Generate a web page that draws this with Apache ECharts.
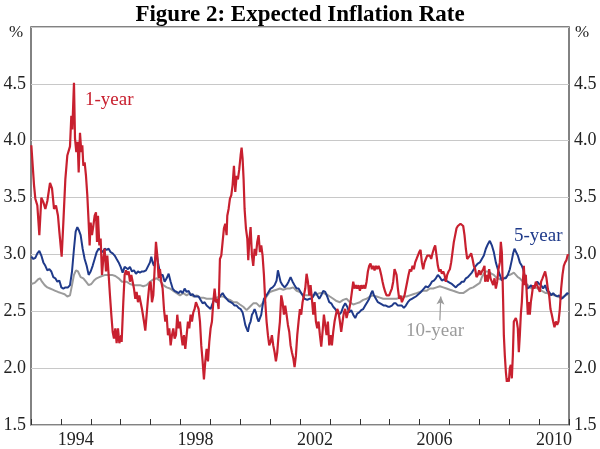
<!DOCTYPE html>
<html>
<head>
<meta charset="utf-8">
<script src="https://cdn.jsdelivr.net/npm/echarts@6/dist/echarts.min.js"></script>
<style>
html,body{margin:0;padding:0;background:#fff;}
#chart{width:600px;height:449px;}
</style>
</head>
<body>
<div id="chart"></div>
<script>
// ---- data (decimal year, per cent) ----
const titleText = 'Figure 2: Expected Inflation Rate';
const yearCategories = ['1993','1994','1995','1996','1997','1998','1999','2000','2001','2002','2003','2004','2005','2006','2007','2008','2009','2010'];
const shownYearLabels = ['1994','1998','2002','2006','2010'];
const yTicks = [1.5,2.0,2.5,3.0,3.5,4.0,4.5,5.0];

const oneYear = [
[1993.011,3.96],[1993.101,3.61],[1993.145,3.49],[1993.212,3.43],[1993.279,3.17],[1993.346,3.50],[1993.413,3.46],[1993.480,3.40],[1993.547,3.47],[1993.636,3.63],[1993.703,3.58],[1993.770,3.40],[1993.836,3.43],[1993.903,3.34],[1993.948,3.20],[1994.026,2.98],[1994.082,3.28],[1994.149,3.66],[1994.215,3.87],[1994.305,3.95],[1994.349,4.22],[1994.383,4.10],[1994.438,4.51],[1994.472,4.02],[1994.516,3.90],[1994.561,3.99],[1994.595,3.72],[1994.639,4.07],[1994.684,3.90],[1994.717,3.96],[1994.751,3.78],[1994.795,3.81],[1994.840,3.69],[1994.884,3.52],[1994.929,3.28],[1994.962,3.08],[1994.996,3.28],[1995.040,3.17],[1995.085,3.25],[1995.130,3.34],[1995.174,3.37],[1995.208,3.11],[1995.241,3.34],[1995.286,3.08],[1995.330,3.14],[1995.375,2.82],[1995.419,2.96],[1995.464,3.05],[1995.509,2.85],[1995.553,2.99],[1995.598,2.82],[1995.642,2.64],[1995.687,2.47],[1995.732,2.32],[1995.776,2.26],[1995.821,2.35],[1995.865,2.22],[1995.910,2.35],[1995.955,2.22],[1996.021,2.29],
[1996.033,2.23],[1996.088,2.58],[1996.133,2.82],[1996.178,2.86],[1996.222,2.82],[1996.267,2.85],[1996.311,2.76],[1996.356,2.82],[1996.401,2.76],[1996.445,2.70],[1996.490,2.61],[1996.534,2.67],[1996.579,2.58],[1996.624,2.64],[1996.668,2.58],[1996.713,2.52],[1996.780,2.41],[1996.824,2.33],[1996.869,2.47],[1996.913,2.61],[1996.958,2.73],[1997.003,2.76],[1997.047,2.58],[1997.092,2.64],[1997.136,2.87],[1997.181,3.11],[1997.226,2.99],[1997.270,2.79],[1997.315,2.87],[1997.359,2.76],[1997.404,2.70],[1997.449,2.52],[1997.493,2.41],[1997.538,2.47],[1997.582,2.29],[1997.627,2.35],[1997.672,2.20],[1997.716,2.29],[1997.761,2.35],[1997.805,2.26],[1997.850,2.29],[1997.894,2.47],[1997.939,2.35],[1997.984,2.41],[1998.028,2.29],[1998.073,2.20],[1998.117,2.29],[1998.162,2.17],[1998.207,2.29],[1998.251,2.41],[1998.296,2.35],[1998.340,2.47],[1998.385,2.41],[1998.430,2.49],[1998.474,2.52],[1998.519,2.58],[1998.563,2.55],[1998.608,2.52],[1998.653,2.41],[1998.697,2.20],[1998.742,2.06],[1998.786,1.90],[1998.831,2.06],[1998.876,2.17],[1998.920,2.06],[1998.965,2.23],[1999.009,2.35],[1999.054,2.41],[1999.098,2.58],[1999.143,2.70],
[1999.188,2.58],[1999.232,2.61],[1999.277,2.52],[1999.321,2.96],[1999.366,2.99],[1999.411,3.11],[1999.455,3.23],[1999.500,3.27],[1999.544,3.17],[1999.567,3.34],[1999.611,3.40],[1999.656,3.49],[1999.700,3.52],[1999.745,3.61],[1999.790,3.78],[1999.834,3.55],[1999.879,3.69],[1999.923,3.66],[1999.968,3.75],[2000.013,3.87],[2000.046,3.94],[2000.080,3.84],[2000.113,3.66],[2000.146,3.40],[2000.191,3.23],[2000.236,3.14],[2000.269,2.95],[2000.302,3.11],[2000.347,3.24],[2000.392,2.99],[2000.436,2.90],[2000.481,3.05],[2000.525,2.99],[2000.570,3.11],[2000.615,3.17],[2000.659,3.02],[2000.704,3.08],[2000.748,2.99],[2000.793,2.82],[2000.838,2.58],[2000.882,2.41],[2000.927,2.29],[2000.971,2.20],[2001.016,2.23],[2001.060,2.29],[2001.105,2.20],[2001.150,2.14],[2001.194,2.06],[2001.239,2.14],[2001.283,2.29],[2001.328,2.41],[2001.373,2.64],[2001.417,2.58],[2001.462,2.47],[2001.506,2.55],[2001.551,2.47],[2001.596,2.38],[2001.640,2.32],[2001.685,2.20],[2001.729,2.14],[2001.774,2.09],[2001.818,2.01],[2001.863,2.11],[2001.908,2.29],[2001.952,2.41],[2001.997,2.52],[2002.041,2.47],[2002.086,2.58],[2002.130,2.64],[2002.175,2.70],
[2002.220,2.83],[2002.265,2.76],[2002.309,2.64],[2002.354,2.73],[2002.398,2.61],[2002.443,2.47],[2002.488,2.58],[2002.532,2.41],[2002.577,2.35],[2002.621,2.41],[2002.666,2.29],[2002.711,2.19],[2002.755,2.32],[2002.800,2.47],[2002.844,2.38],[2002.889,2.29],[2002.933,2.41],[2002.978,2.20],[2003.023,2.29],[2003.067,2.20],[2003.112,2.32],[2003.156,2.41],[2003.201,2.47],[2003.246,2.52],[2003.290,2.49],[2003.335,2.41],[2003.379,2.32],[2003.424,2.41],[2003.469,2.49],[2003.513,2.52],[2003.558,2.44],[2003.602,2.49],[2003.647,2.52],[2003.691,2.58],[2003.736,2.67],[2003.781,2.76],[2003.825,2.70],[2003.870,2.73],[2003.914,2.70],[2003.959,2.73],[2004.004,2.68],[2004.048,2.73],[2004.093,2.70],[2004.137,2.73],[2004.182,2.70],[2004.227,2.76],[2004.271,2.85],[2004.316,2.90],[2004.360,2.92],[2004.405,2.87],[2004.450,2.90],[2004.494,2.86],[2004.539,2.90],[2004.583,2.87],[2004.628,2.90],[2004.672,2.87],[2004.717,2.82],[2004.762,2.76],[2004.806,2.71],[2004.851,2.67],[2004.895,2.64],[2004.940,2.63],[2004.985,2.64],[2005.029,2.67],[2005.074,2.70],[2005.118,2.76],[2005.163,2.87],
[2005.185,2.87],[2005.230,2.82],[2005.275,2.70],[2005.319,2.61],[2005.364,2.64],[2005.408,2.58],[2005.453,2.61],[2005.498,2.64],[2005.542,2.70],[2005.587,2.76],[2005.631,2.82],[2005.676,2.87],[2005.720,2.85],[2005.765,2.90],[2005.810,2.87],[2005.854,2.93],[2005.899,2.96],[2005.943,2.99],[2005.988,3.02],[2006.033,3.04],[2006.077,2.93],[2006.122,2.87],[2006.166,2.93],[2006.211,2.96],[2006.256,2.99],[2006.300,2.98],[2006.345,2.99],[2006.389,2.96],[2006.434,3.01],[2006.479,3.05],[2006.523,3.08],[2006.568,2.99],[2006.612,2.90],[2006.657,2.85],[2006.702,2.87],[2006.746,2.83],[2006.791,2.85],[2006.835,2.82],[2006.880,2.76],[2006.924,2.82],[2006.969,2.85],[2007.014,2.87],[2007.058,2.93],[2007.103,3.02],[2007.147,3.11],[2007.192,3.17],[2007.237,3.23],[2007.281,3.25],[2007.326,3.25],[2007.370,3.27],[2007.415,3.28],[2007.460,3.25],[2007.504,3.17],[2007.549,3.05],[2007.593,2.96],[2007.638,2.95],[2007.683,2.99],[2007.727,3.01],[2007.772,2.96],[2007.816,2.90],[2007.861,2.87],[2007.905,2.80],[2007.950,2.82],[2007.995,2.86],[2008.039,2.82],[2008.084,2.85],[2008.128,2.87],[2008.173,2.90],
[2008.195,2.76],[2008.240,2.82],[2008.285,2.76],[2008.329,2.87],[2008.374,2.79],[2008.418,2.76],[2008.463,2.73],[2008.508,2.79],[2008.552,2.70],[2008.597,2.76],[2008.641,2.87],[2008.686,2.93],[2008.719,3.11],[2008.753,3.02],[2008.775,2.82],[2008.797,2.58],[2008.820,2.29],[2008.853,2.11],[2008.887,1.97],[2008.920,1.88],[2008.953,1.91],[2008.987,1.88],[2009.020,2.00],[2009.054,2.03],[2009.087,1.91],[2009.121,2.11],[2009.154,2.41],[2009.188,2.41],[2009.221,2.44],[2009.254,2.41],[2009.288,2.35],[2009.321,2.14],[2009.355,2.29],[2009.388,2.47],[2009.422,2.58],[2009.455,2.76],[2009.489,2.90],[2009.522,2.73],[2009.555,2.82],[2009.589,2.64],[2009.622,2.47],[2009.656,2.58],[2009.689,2.47],[2009.723,2.58],[2009.756,2.64],[2009.801,2.73],[2009.845,2.70],[2009.890,2.76],[2009.934,2.73],[2009.979,2.70],[2010.024,2.67],[2010.068,2.76],[2010.113,2.79],[2010.157,2.82],[2010.202,2.85],[2010.247,2.79],[2010.291,2.70],[2010.336,2.64],[2010.380,2.52],[2010.425,2.47],[2010.470,2.41],[2010.514,2.36],[2010.559,2.41],[2010.603,2.38],[2010.648,2.41],[2010.693,2.52],[2010.737,2.70],[2010.782,2.82],[2010.826,2.90],[2010.871,2.93],[2010.915,2.95],[2010.960,3.00],[2010.982,2.99]
];

const fiveYear = [
[1993.011,2.98],[1993.078,2.96],[1993.145,2.97],[1993.212,3.01],[1993.279,3.03],[1993.346,2.99],[1993.413,2.93],[1993.480,2.90],[1993.547,2.86],[1993.614,2.87],[1993.680,2.85],[1993.747,2.80],[1993.814,2.79],[1993.881,2.76],[1993.948,2.77],[1994.015,2.71],[1994.082,2.70],[1994.149,2.71],[1994.238,2.71],[1994.305,2.73],[1994.372,2.85],[1994.438,3.05],[1994.494,3.20],[1994.550,3.24],[1994.606,3.21],[1994.661,3.17],[1994.728,3.05],[1994.795,2.96],[1994.862,2.90],[1994.929,2.82],[1994.996,2.85],[1995.063,2.90],[1995.130,2.96],[1995.197,3.02],[1995.263,3.05],[1995.330,3.04],[1995.397,3.02],[1995.464,3.05],[1995.531,3.04],[1995.598,3.05],[1995.665,3.02],[1995.732,3.01],[1995.799,2.99],[1995.865,2.96],[1995.932,2.93],[1995.999,2.89],[1996.066,2.84],[1996.133,2.89],
[1996.178,2.90],[1996.245,2.87],[1996.311,2.89],[1996.378,2.85],[1996.445,2.86],[1996.512,2.83],[1996.579,2.85],[1996.646,2.84],[1996.713,2.85],[1996.780,2.85],[1996.847,2.86],[1996.913,2.87],[1996.980,2.93],[1997.025,2.98],[1997.070,2.93],[1997.114,2.90],[1997.159,2.96],[1997.203,3.01],[1997.248,2.93],[1997.293,2.87],[1997.337,2.82],[1997.404,2.82],[1997.471,2.76],[1997.538,2.79],[1997.605,2.83],[1997.672,2.76],[1997.739,2.70],[1997.805,2.68],[1997.872,2.67],[1997.939,2.66],[1998.006,2.68],[1998.073,2.66],[1998.140,2.70],[1998.207,2.67],[1998.274,2.68],[1998.340,2.64],[1998.407,2.65],[1998.474,2.63],[1998.541,2.63],[1998.608,2.63],[1998.675,2.60],[1998.742,2.57],[1998.809,2.58],[1998.876,2.55],[1998.942,2.54],[1999.009,2.52],[1999.076,2.57],[1999.143,2.61],
[1999.210,2.58],[1999.277,2.61],[1999.344,2.64],[1999.411,2.66],[1999.478,2.63],[1999.544,2.61],[1999.611,2.59],[1999.678,2.58],[1999.745,2.57],[1999.812,2.55],[1999.879,2.55],[1999.946,2.53],[2000.013,2.52],[2000.080,2.49],[2000.124,2.44],[2000.169,2.38],[2000.213,2.35],[2000.258,2.32],[2000.302,2.38],[2000.347,2.41],[2000.392,2.47],[2000.436,2.49],[2000.481,2.52],[2000.525,2.49],[2000.570,2.44],[2000.615,2.41],[2000.659,2.41],[2000.704,2.47],[2000.748,2.55],[2000.793,2.61],[2000.838,2.61],[2000.882,2.64],[2000.949,2.67],[2001.016,2.70],[2001.083,2.71],[2001.150,2.73],[2001.216,2.77],[2001.261,2.86],[2001.306,2.85],[2001.350,2.76],[2001.417,2.73],[2001.484,2.71],[2001.551,2.73],[2001.618,2.76],[2001.685,2.80],[2001.752,2.76],[2001.818,2.73],[2001.885,2.70],[2001.952,2.70],[2002.019,2.67],[2002.086,2.64],[2002.153,2.61],
[2002.242,2.60],[2002.309,2.61],[2002.376,2.61],[2002.443,2.63],[2002.510,2.67],[2002.577,2.64],[2002.644,2.61],[2002.711,2.64],[2002.777,2.68],[2002.844,2.67],[2002.911,2.63],[2002.978,2.58],[2003.045,2.57],[2003.112,2.54],[2003.179,2.52],[2003.246,2.49],[2003.313,2.47],[2003.379,2.49],[2003.446,2.54],[2003.513,2.57],[2003.580,2.54],[2003.647,2.49],[2003.714,2.51],[2003.781,2.47],[2003.848,2.44],[2003.914,2.48],[2003.981,2.49],[2004.048,2.51],[2004.115,2.52],[2004.182,2.55],[2004.249,2.58],[2004.316,2.61],[2004.383,2.66],[2004.427,2.68],[2004.472,2.64],[2004.539,2.61],[2004.606,2.58],[2004.672,2.57],[2004.739,2.56],[2004.806,2.55],[2004.873,2.55],[2004.940,2.54],[2005.007,2.54],[2005.074,2.55],[2005.141,2.57],
[2005.208,2.57],[2005.275,2.55],[2005.341,2.54],[2005.408,2.55],[2005.475,2.53],[2005.542,2.55],[2005.609,2.58],[2005.676,2.60],[2005.743,2.61],[2005.810,2.62],[2005.877,2.63],[2005.943,2.64],[2006.010,2.66],[2006.077,2.68],[2006.144,2.70],[2006.211,2.72],[2006.278,2.71],[2006.345,2.73],[2006.412,2.76],[2006.479,2.77],[2006.545,2.79],[2006.612,2.82],[2006.679,2.80],[2006.746,2.77],[2006.813,2.78],[2006.880,2.77],[2006.947,2.76],[2007.014,2.75],[2007.081,2.74],[2007.147,2.73],[2007.214,2.71],[2007.281,2.73],[2007.348,2.74],[2007.415,2.76],[2007.482,2.76],[2007.549,2.79],[2007.616,2.80],[2007.683,2.82],[2007.750,2.84],[2007.816,2.87],[2007.883,2.90],[2007.950,2.92],[2008.017,2.93],[2008.084,2.96],[2008.151,2.99],
[2008.218,3.05],[2008.285,3.09],[2008.351,3.12],[2008.418,3.08],[2008.485,3.02],[2008.552,2.93],[2008.619,2.87],[2008.686,2.82],[2008.753,2.77],[2008.820,2.79],[2008.887,2.79],[2008.953,2.82],[2009.020,2.87],[2009.087,2.95],[2009.132,3.01],[2009.176,3.05],[2009.221,3.04],[2009.288,2.99],[2009.355,2.93],[2009.422,2.90],[2009.466,2.87],[2009.511,2.82],[2009.555,2.76],[2009.600,2.70],[2009.667,2.71],[2009.734,2.73],[2009.801,2.70],[2009.868,2.73],[2009.934,2.76],[2010.001,2.74],[2010.068,2.73],[2010.135,2.70],[2010.202,2.73],[2010.269,2.68],[2010.336,2.67],[2010.403,2.64],[2010.470,2.66],[2010.536,2.64],[2010.603,2.63],[2010.670,2.64],[2010.737,2.61],[2010.804,2.62],[2010.871,2.64],[2010.938,2.66],[2010.982,2.65]
];

const tenYear = [
[1993.011,2.74],[1993.123,2.75],[1993.234,2.78],[1993.301,2.79],[1993.368,2.76],[1993.457,2.73],[1993.547,2.71],[1993.636,2.70],[1993.725,2.69],[1993.814,2.68],[1993.903,2.67],[1994.015,2.66],[1994.126,2.65],[1994.215,2.63],[1994.305,2.64],[1994.372,2.73],[1994.438,2.82],[1994.505,2.86],[1994.572,2.85],[1994.661,2.80],[1994.751,2.79],[1994.840,2.76],[1994.929,2.73],[1995.018,2.74],[1995.107,2.77],[1995.197,2.79],[1995.286,2.80],[1995.375,2.81],[1995.486,2.82],[1995.598,2.82],[1995.709,2.82],[1995.821,2.81],[1995.932,2.79],[1996.044,2.76],
[1996.200,2.76],[1996.311,2.74],[1996.423,2.73],[1996.534,2.73],[1996.646,2.73],[1996.757,2.72],[1996.869,2.73],[1996.980,2.76],[1997.092,2.78],[1997.203,2.79],[1997.315,2.77],[1997.426,2.73],[1997.538,2.71],[1997.649,2.70],[1997.761,2.68],[1997.872,2.66],[1997.984,2.64],[1998.095,2.66],[1998.207,2.64],[1998.318,2.66],[1998.430,2.63],[1998.541,2.64],[1998.653,2.62],[1998.764,2.62],[1998.876,2.61],[1998.987,2.61],[1999.098,2.61],
[1999.210,2.62],[1999.321,2.63],[1999.433,2.63],[1999.544,2.61],[1999.656,2.60],[1999.767,2.58],[1999.879,2.58],[1999.990,2.56],[2000.102,2.54],[2000.213,2.51],[2000.325,2.54],[2000.436,2.57],[2000.548,2.57],[2000.659,2.54],[2000.771,2.58],[2000.882,2.63],[2000.994,2.67],[2001.105,2.68],[2001.216,2.69],[2001.328,2.70],[2001.440,2.69],[2001.551,2.70],[2001.662,2.70],[2001.774,2.71],[2001.885,2.68],[2001.997,2.67],[2002.108,2.64],
[2002.220,2.64],[2002.331,2.64],[2002.443,2.64],[2002.554,2.65],[2002.666,2.66],[2002.777,2.66],[2002.889,2.65],[2003.000,2.63],[2003.112,2.61],[2003.223,2.59],[2003.335,2.58],[2003.446,2.60],[2003.558,2.61],[2003.669,2.58],[2003.781,2.56],[2003.892,2.57],[2004.004,2.58],[2004.115,2.60],[2004.227,2.61],[2004.338,2.63],[2004.450,2.64],[2004.561,2.63],[2004.672,2.62],[2004.784,2.61],[2004.895,2.61],[2005.007,2.61],[2005.118,2.61],
[2005.230,2.61],[2005.341,2.62],[2005.453,2.63],[2005.564,2.63],[2005.676,2.64],[2005.787,2.65],[2005.899,2.66],[2006.010,2.67],[2006.122,2.68],[2006.233,2.68],[2006.345,2.70],[2006.456,2.70],[2006.568,2.71],[2006.679,2.72],[2006.791,2.71],[2006.902,2.70],[2007.014,2.69],[2007.125,2.68],[2007.237,2.67],[2007.348,2.66],[2007.460,2.66],[2007.571,2.68],[2007.683,2.70],[2007.794,2.71],[2007.905,2.73],[2008.017,2.75],
[2008.084,2.80],[2008.151,2.83],[2008.218,2.85],[2008.285,2.85],[2008.351,2.85],[2008.418,2.83],[2008.485,2.82],[2008.552,2.80],[2008.619,2.79],[2008.686,2.78],[2008.753,2.79],[2008.820,2.79],[2008.887,2.80],[2008.953,2.82],[2009.020,2.82],[2009.087,2.83],[2009.154,2.84],[2009.221,2.82],[2009.288,2.80],[2009.355,2.79],[2009.422,2.77],[2009.489,2.76],[2009.555,2.74],[2009.622,2.73],[2009.689,2.71],[2009.756,2.70],[2009.823,2.71],[2009.890,2.71],[2009.957,2.70],[2010.024,2.69],[2010.091,2.68],[2010.157,2.67],[2010.224,2.66],[2010.291,2.66],[2010.358,2.64],[2010.425,2.65],[2010.492,2.64],[2010.559,2.64],[2010.626,2.63],[2010.693,2.62],[2010.759,2.63],[2010.826,2.63],[2010.893,2.64],[2010.960,2.65]
];

// annotation arrow for the 10-year label (data coordinates)
const tenYearArrow = [[2006.68,2.42],[2006.71,2.63]];

const RED = '#c8202f', NAVY = '#1f3a8a', GREY = '#9b9b9b';
const SERIF = '"Liberation Serif","Times New Roman",serif';

const chart = echarts.init(document.getElementById('chart'), null, {renderer:'canvas'});
const axisLabelStyle = {fontFamily: SERIF, fontSize: 18, color: '#222'};

chart.setOption({
  animation: false,
  backgroundColor: '#fff',
  title: {
    text: titleText, left: 'center', top: -1,
    textStyle: {fontFamily: SERIF, fontWeight: 'bold', fontSize: 23, color: '#000'}
  },
  grid: {left: 31, right: 31, top: 27, bottom: 23, show: true, borderColor: '#5a5a5a', borderWidth: 1.5, containLabel: false},
  xAxis: [
    {
      type: 'category', data: yearCategories, boundaryGap: true, position: 'bottom',
      axisLine: {show: false},
      axisTick: {show: true, inside: true, length: 6, interval: 0, lineStyle: {color: '#333', width: 1}},
      axisLabel: {
        show: true, margin: 6, interval: function (i, v) { return shownYearLabels.indexOf(v) >= 0; },
        ...axisLabelStyle
      },
      splitLine: {show: false}
    },
    {
      type: 'value', min: 1993, max: 2011, show: false
    }
  ],
  yAxis: [
    {
      type: 'value', min: 1.5, max: 5.0, interval: 0.5, position: 'left',
      axisLine: {show: false}, axisTick: {show: false},
      axisLabel: {margin: 5, formatter: v => v >= 5 ? '' : v.toFixed(1), ...axisLabelStyle},
      splitLine: {show: true, lineStyle: {color: '#c8c8c8', width: 1}}
    },
    {
      type: 'value', min: 1.5, max: 5.0, interval: 0.5, position: 'right',
      axisLine: {show: false}, axisTick: {show: false},
      axisLabel: {margin: 5, formatter: v => v >= 5 ? '' : v.toFixed(1), ...axisLabelStyle},
      splitLine: {show: false}
    }
  ],
  series: [
    {
      name: '10-year', type: 'line', xAxisIndex: 1, yAxisIndex: 0, data: tenYear,
      showSymbol: false, lineStyle: {color: GREY, width: 2}, z: 2,
      markLine: {
        silent: true, symbol: ['none', 'arrow'], symbolSize: [6, 8], label: {show: false},
        lineStyle: {color: GREY, width: 1.2, type: 'solid'},
        data: [[{coord: tenYearArrow[0]}, {coord: tenYearArrow[1]}]]
      }
    },
    {
      name: '5-year', type: 'line', xAxisIndex: 1, yAxisIndex: 0, data: fiveYear,
      showSymbol: false, lineStyle: {color: NAVY, width: 2}, z: 3
    },
    {
      name: '1-year', type: 'line', xAxisIndex: 1, yAxisIndex: 0, data: oneYear,
      showSymbol: false, lineStyle: {color: RED, width: 2.2}, z: 4
    }
  ],
  graphic: [
    {type: 'text', left: 9, top: 24, style: {text: '%', font: '17px ' + SERIF, fill: '#222'}},
    {type: 'text', left: 575, top: 24, style: {text: '%', font: '17px ' + SERIF, fill: '#222'}},
    {type: 'text', left: 85, top: 91, style: {text: '1-year', font: '19px ' + SERIF, fill: RED}},
    {type: 'text', left: 514, top: 227, style: {text: '5-year', font: '19px ' + SERIF, fill: NAVY}},
    {type: 'text', left: 406, top: 322, style: {text: '10-year', font: '19px ' + SERIF, fill: GREY}}
  ]
});
</script>
</body>
</html>
